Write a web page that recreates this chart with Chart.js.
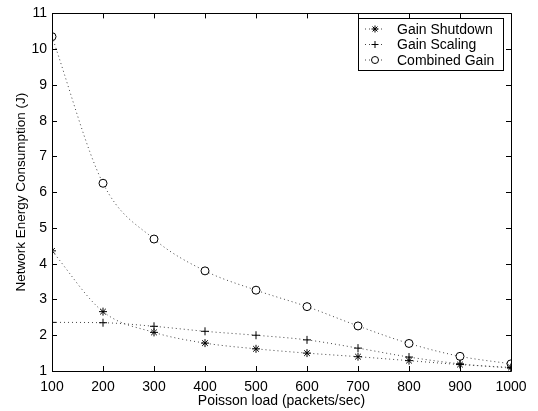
<!DOCTYPE html>
<html>
<head>
<meta charset="utf-8">
<script src="https://cdn.jsdelivr.net/npm/chart.js@4/dist/chart.umd.min.js"></script>
<style>
  html, body { margin: 0; padding: 0; background: #fff; }
  #wrap { width: 538px; height: 411px; }
</style>
</head>
<body>
<div id="wrap"><canvas id="energyChart" width="538" height="411"></canvas></div>
<script>
(function () {
  'use strict';

  var loads = [100, 200, 300, 400, 500, 600, 700, 800, 900, 1000];
  var gainShutdown = [4.36, 2.66, 2.08, 1.78, 1.62, 1.50, 1.40, 1.29, 1.18, 1.10];
  var gainScaling = [2.36, 2.35, 2.25, 2.11, 2.00, 1.87, 1.64, 1.39, 1.20, 1.08];
  var combinedGain = [10.35, 6.25, 4.69, 3.80, 3.26, 2.80, 2.26, 1.77, 1.41, 1.20];
  var yTicks = [1, 2, 3, 4, 5, 6, 7, 8, 9, 10, 11];

  var font = '"Liberation Sans", Arial, Helvetica, sans-serif';
  var ink = '#000';

  function pts(ys) {
    return loads.map(function (x, i) { return { x: x, y: ys[i] }; });
  }

  function series(label, ys, style, bg) {
    return {
      label: label,
      data: pts(ys),
      borderColor: '#444',
      borderWidth: 1,
      borderDash: [1, 3],
      cubicInterpolationMode: 'monotone',
      pointStyle: style,
      pointRadius: 4,
      pointBorderColor: ink,
      pointBackgroundColor: bg,
      pointBorderWidth: 1
    };
  }

  // frame with inward ticks on all four sides, like the original plot box
  var framePlugin = {
    id: 'frame',
    afterDatasetsDraw: function (chart) {
      var ctx = chart.ctx, a = chart.chartArea;
      var xs = chart.scales.x, ys = chart.scales.y;
      ctx.save();
      ctx.strokeStyle = ink;
      ctx.lineWidth = 1;
      ctx.beginPath();
      ctx.rect(Math.round(a.left) + 0.5, Math.round(a.top) + 0.5,
        Math.round(a.right - a.left), Math.round(a.bottom - a.top));
      loads.forEach(function (v) {
        var px = Math.round(xs.getPixelForValue(v)) + 0.5;
        ctx.moveTo(px, a.bottom); ctx.lineTo(px, a.bottom - 5);
        ctx.moveTo(px, a.top); ctx.lineTo(px, a.top + 5);
      });
      yTicks.forEach(function (v) {
        var py = Math.round(ys.getPixelForValue(v)) + 0.5;
        ctx.moveTo(a.left, py); ctx.lineTo(a.left + 5, py);
        ctx.moveTo(a.right, py); ctx.lineTo(a.right - 5, py);
      });
      ctx.stroke();
      ctx.restore();
    }
  };

  // boxed legend in the top right corner of the plot
  var legendPlugin = {
    id: 'boxLegend',
    afterDraw: function (chart) {
      var ctx = chart.ctx, a = chart.chartArea;
      var w = 145, h = 52;
      var x0 = Math.round(a.right) - 8 - w, y0 = Math.round(a.top) + 5;
      ctx.save();
      ctx.fillStyle = '#fff';
      ctx.fillRect(x0, y0, w, h);
      ctx.strokeStyle = ink;
      ctx.lineWidth = 1;
      ctx.strokeRect(x0 + 0.5, y0 + 0.5, w, h);
      ctx.font = '14px ' + font;
      ctx.textBaseline = 'middle';
      chart.data.datasets.forEach(function (ds, i) {
        var cy = y0 + 11 + i * 15.5;
        ctx.strokeStyle = '#444';
        ctx.setLineDash([1, 3]);
        ctx.beginPath();
        ctx.moveTo(x0 + 7, cy); ctx.lineTo(x0 + 27, cy);
        ctx.stroke();
        ctx.setLineDash([]);
        ctx.strokeStyle = ink;
        ctx.fillStyle = ds.pointBackgroundColor;
        Chart.helpers.drawPoint(ctx, { pointStyle: ds.pointStyle, radius: 3.5, borderWidth: 1 }, x0 + 17, cy);
        ctx.fillStyle = ink;
        ctx.fillText(ds.label, x0 + 39, cy + 1);
      });
      ctx.restore();
    }
  };

  new Chart(document.getElementById('energyChart'), {
    type: 'line',
    data: {
      datasets: [
        series('Gain Shutdown', gainShutdown, 'star', ink),
        series('Gain Scaling', gainScaling, 'cross', ink),
        series('Combined Gain', combinedGain, 'circle', '#fff')
      ]
    },
    plugins: [framePlugin, legendPlugin],
    options: {
      responsive: false,
      animation: false,
      layout: { padding: { top: 9, right: 27, left: 0, bottom: 0 } },
      plugins: {
        legend: { display: false },
        tooltip: { enabled: false }
      },
      scales: {
        x: {
          type: 'linear',
          min: 100,
          max: 1000,
          afterBuildTicks: function (s) { s.ticks = loads.map(function (v) { return { value: v }; }); },
          grid: { display: false, drawTicks: false },
          border: { display: false },
          ticks: {
            color: ink, padding: 8, maxRotation: 0, font: { family: font, size: 14 },
            callback: function (v) { return String(v); }
          },
          title: { display: true, text: 'Poisson load (packets/sec)', color: ink, padding: { top: 0, bottom: 1 }, font: { family: font, size: 14 } },
          afterFit: function (s) { s.height = 40; }
        },
        y: {
          min: 1,
          max: 11,
          afterBuildTicks: function (s) { s.ticks = yTicks.map(function (v) { return { value: v }; }); },
          grid: { display: false, drawTicks: false },
          border: { display: false },
          ticks: { color: ink, padding: 5, font: { family: font, size: 14 } },
          title: { display: true, text: 'Network Energy Consumption (J)', color: ink, padding: { top: 13, bottom: 0 }, font: { family: font, size: 13.5 } },
          afterFit: function (s) { s.width = 52; }
        }
      }
    }
  });
})();
</script>
</body>
</html>
